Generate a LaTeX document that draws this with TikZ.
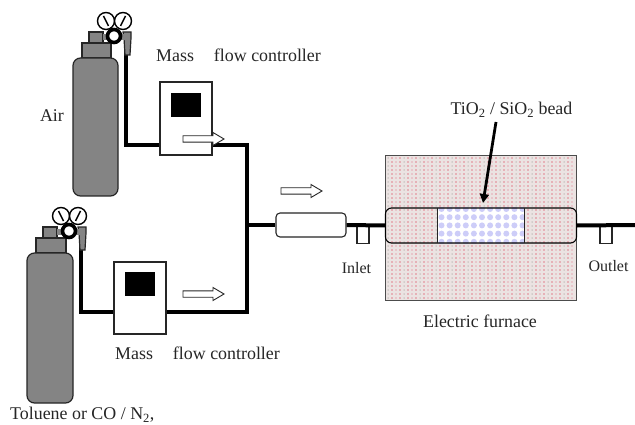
\documentclass[tikz,border=0pt]{standalone}
\usepackage{fontspec}
\setmainfont{Liberation Serif}
\usetikzlibrary{arrows.meta}
\definecolor{cylgray}{HTML}{848484}
\definecolor{furnbg}{HTML}{EBE3E2}
\definecolor{furnred}{HTML}{E27F8C}
\definecolor{furnpink}{HTML}{E6A9B4}
\definecolor{furngray}{HTML}{B9B6B2}
\definecolor{beadblue}{HTML}{CDCDF8}
\tikzset{
  x=1pt,y=-1pt,
  lab/.style={inner sep=0pt,font=\fontsize{17.9}{20}\selectfont,text=black!85},
  labs/.style={inner sep=0pt,font=\fontsize{16}{18}\selectfont,text=black!85},
  pipe/.style={line width=4pt,black,line join=miter},
  metal/.style={draw=black!85,line width=1.2pt,fill=cylgray},
  gauge/.style={circle,draw=black,line width=1.4pt,fill=white,minimum size=17pt,inner sep=0pt},
  ringv/.style={circle,draw=black,line width=3.6pt,fill=white,minimum size=13pt,inner sep=0pt},
  boxs/.style={draw=black!85,line width=1.1pt,fill=white,inner sep=0pt},
  flow/.style={draw=black!85,line width=.9pt,fill=white,line join=miter}
}
\newcommand{\flowarrow}[2]{% x start, y centre
  \draw[flow] (#1,#2-3.2) -- (#1+30,#2-3.2) -- (#1+30,#2-6.5) -- (#1+41,#2) -- (#1+30,#2+6.5) -- (#1+30,#2+3.2) -- (#1,#2+3.2) -- cycle;
}
\newcommand{\cylinder}[5]{% left, right, top, bottom, name
  \pgfmathsetmacro{\cxa}{#1+9}\pgfmathsetmacro{\cxb}{#2-7}
  \pgfmathsetmacro{\cxc}{#1+16}\pgfmathsetmacro{\cxd}{#1+30}
  \pgfmathsetmacro{\cta}{#3-15}\pgfmathsetmacro{\ctb}{#3-26}
  \pgfmathsetmacro{\cw}{#2+5}\pgfmathsetmacro{\cwb}{#2+13}
  \pgfmathsetmacro{\cwd}{#2+12}
  \pgfmathsetmacro{\cte}{#3-3}
  \pgfmathsetmacro{\ctg}{#3-20}
  % taper outlet
  \draw[metal] (\cw,\ctb) -- (\cwb,\ctb) -- (\cwb,\ctg) -- (\cwd,\cte) -- (\cw+2,\cte) -- (\cw+1,\ctg) -- cycle;
  % valve stem and neck
  \draw[metal] (\cxc,\ctb) rectangle (\cxd,\cta);
  \draw[metal] (\cxa,\cta) rectangle (\cxb,#3);
  \fill[cylgray] (\cxd,\ctb+2) rectangle (\cw+2,\ctb+8);
  % body
  \draw[metal,rounded corners=7.5pt] (#1,#3) rectangle (#2,#4);
  % gauges and ring
  \node[gauge] (#5g1) at (#2-12,#3-37) {};
  \node[gauge] (#5g2) at (#2+5,#3-37) {};
  \draw[line width=1.5pt] (#2-14.5,#3-42) -- (#2-9.5,#3-32);
  \draw[line width=1.5pt] (#2+7.5,#3-42) -- (#2+2.5,#3-32);
  \node[ringv] (#5r) at (#2-4,#3-22) {};
}
\begin{document}
\begin{tikzpicture}
\useasboundingbox (0,0) rectangle (635,425);
\fill[white] (0,0) rectangle (635,425);

% pipe junction coordinates
\coordinate (ua) at (126,52);
\coordinate (ub) at (126,145);
\coordinate (uc) at (246.5,145);
\coordinate (la) at (81,246);
\coordinate (lb) at (81,312);
\coordinate (lc) at (246.5,312);
\coordinate (jn) at (246.5,225);
\coordinate (exit) at (635,225);

% furnace
\node[draw=none,fill=furnbg,minimum width=190pt,minimum height=144pt,inner sep=0pt] (furnace) at (481,228) {};
\foreach \i in {0,...,46}{\foreach \j in {0,...,35}{
  \pgfmathsetmacro{\px}{388+\i*4}\pgfmathsetmacro{\py}{158+\j*4}
  \pgfmathtruncatemacro{\q}{mod(\i,4)}
  \ifcase\q \fill[furngray] (\px,\py) circle (.75pt);
  \or \fill[furnred] (\px,\py) circle (.85pt);
  \or \fill[furnpink] (\px,\py) circle (.8pt);
  \or \fill[furnred] (\px,\py) circle (.85pt);\fi
}}
\draw[draw=black!70,line width=1pt] (furnace.north west) rectangle (furnace.south east);

% bead
\node[fill=white,minimum width=86pt,minimum height=35pt,inner sep=0pt] (bead) at (481,225.5) {};
\begin{scope}
\clip (bead.north west) rectangle (bead.south east);
\foreach \i in {0,...,10}{\foreach \j in {0,...,4}{
  \fill[beadblue] (441.5+\i*8.1,209+\j*8.2) circle (3pt);
}}
\end{scope}
\node[draw=black,line width=1.1pt,rounded corners=6pt,minimum width=191pt,minimum height=35pt,inner sep=0pt] (tube) at (481,225.5) {};
\draw[line width=1pt,black!85] (bead.north west) -- (bead.south west) (bead.north east) -- (bead.south east);

% stubs
\node[boxs,minimum width=12pt,minimum height=18pt] (inl) at (363,234.5) {};
\node[boxs,minimum width=12pt,minimum height=18pt] (outl) at (606,234.5) {};

% pipes
\node[boxs,minimum width=52pt,minimum height=73pt] (mfcu) at (186,118.5) {};
\node[boxs,minimum width=52pt,minimum height=72pt] (mfcl) at (140,298) {};
\node[boxs,rounded corners=4pt,minimum width=70pt,minimum height=24pt] (mixer) at (311,225) {};
\draw[pipe] (ua) -- (ub) -- (mfcu.west |- ub);
\draw[pipe] (mfcu.east |- uc) -- (uc) -- (lc) -- (mfcl.east |- lc);
\draw[pipe] (la) -- (lb) -- (mfcl.west |- lb);
\draw[pipe] (jn) -- (mixer.west);
\draw[pipe] (mixer.east) -- (tube.west);
\draw[pipe] (tube.east) -- (exit);

% mfc displays
\node[fill=black,minimum width=30pt,minimum height=24pt,inner sep=0pt] (dispu) at (186,105) {};
\node[fill=black,minimum width=30pt,minimum height=24pt,inner sep=0pt] (displ) at (140,284) {};

% cylinders
\cylinder{73}{118}{58}{196}{up}
\cylinder{27}{73}{253}{403}{lo}

% flow arrows
\flowarrow{183}{139}
\flowarrow{183}{294}
\flowarrow{281}{191}

% bead pointer
\coordinate (ptr) at (496,122);
\coordinate (ptrend) at (483,203);
\draw[line width=2.8pt,-{Triangle[length=9pt,width=9pt]}] (ptr) -- (ptrend);

% labels
\node[lab] at (52,116) {Air};
\node[lab,anchor=west] at (156,55) {Mass\hspace{20pt}flow controller};
\node[lab,anchor=west] at (115,353) {Mass\hspace{20pt}flow controller};
\node[lab,anchor=west] at (10,415) {Toluene or CO / N\textsubscript{2},};
\node[labs] at (356.5,268) {Inlet};
\node[labs] at (608.5,266) {Outlet};
\node[lab] at (480,321) {Electric furnace};
\node[lab] at (511.5,110) {TiO\textsubscript{2} / SiO\textsubscript{2} bead};
\end{tikzpicture}
\end{document}
